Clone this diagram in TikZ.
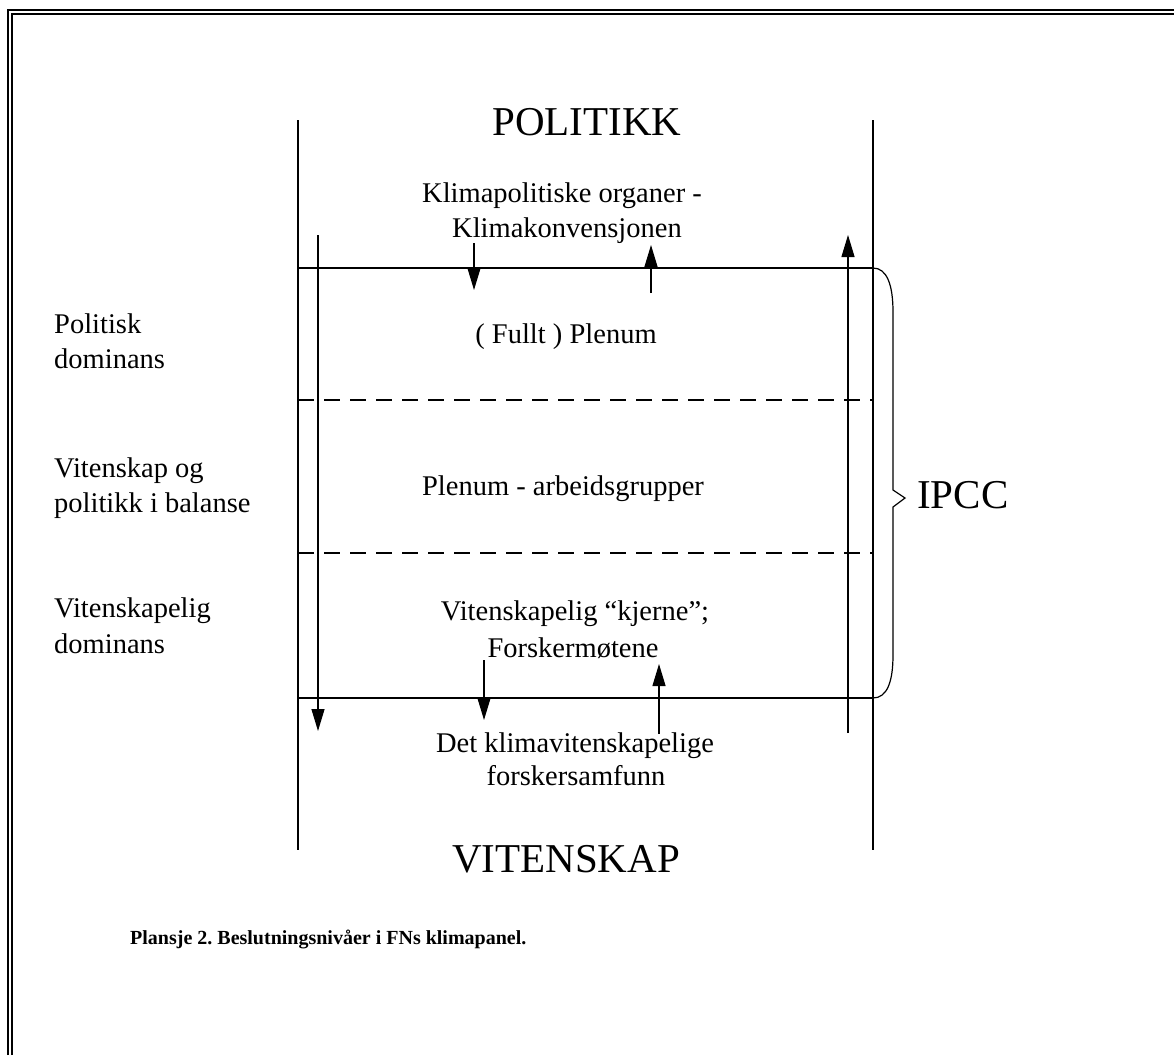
\documentclass[tikz,border=0pt]{standalone}
\usepackage{fontspec}
\setmainfont{Liberation Serif}
\usetikzlibrary{arrows.meta}
\frenchspacing
\begin{document}
\begin{tikzpicture}[x=1pt,y=-1pt,
  ln/.style={line width=1.2pt},
  arr/.style={ln,-{Triangle[length=22pt,width=13pt]}},
  dsh/.style={ln,dash pattern=on 16pt off 10pt},
  small/.style={font=\fontsize{28.5}{35}\selectfont,inner sep=0pt,anchor=base},
  lefttxt/.style={font=\fontsize{28.5}{35}\selectfont,inner sep=0pt,anchor=base west},
  big/.style={font=\fontsize{41}{48}\selectfont,inner sep=0pt,anchor=base},
]
\useasboundingbox (0,0) rectangle (1174,1055);
\fill[white] (0,0) rectangle (1174,1055);
% frame (top and left, double)
\draw[line width=2.5pt] (8,1055) -- (8,10) -- (1174,10);
\draw[line width=2pt] (11.5,1055) -- (11.5,14) -- (1174,14);
% main columns
\coordinate (LT) at (298,120); \coordinate (LB) at (298,850);
\coordinate (RT) at (873,120); \coordinate (RB) at (873,850);
\draw[ln] (LT) -- (LB);
\draw[ln] (RT) -- (RB);
% horizontal levels
\coordinate (T1) at (298,268); \coordinate (T2) at (873,268);
\coordinate (B1) at (298,698); \coordinate (B2) at (873,698);
\coordinate (D1a) at (298,400); \coordinate (D1b) at (873,400);
\coordinate (D2a) at (298,553); \coordinate (D2b) at (873,553);
\draw[ln] (T1) -- (T2);
\draw[ln] (B1) -- (B2);
\draw[dsh] (D1a) -- (D1b);
\draw[dsh] (D2a) -- (D2b);
% brace
\draw[ln] (T2) .. controls (887,268) and (893,285) .. (893,312) -- (893,490) -- (905,498) -- (893,507) -- (893,655) .. controls (893,682) and (887,698) .. (B2);
% arrows
\coordinate (ALs) at (318,235); \coordinate (ALe) at (318,731);
\coordinate (ARs) at (848,733); \coordinate (ARe) at (848,235);
\coordinate (A1s) at (474,243); \coordinate (A1e) at (474,290);
\coordinate (A2s) at (651,293); \coordinate (A2e) at (651,245);
\coordinate (A3s) at (484,660); \coordinate (A3e) at (484,720);
\coordinate (A4s) at (659,734); \coordinate (A4e) at (659,664);
\draw[arr] (ALs) -- (ALe);
\draw[arr] (ARs) -- (ARe);
\draw[arr] (A1s) -- (A1e);
\draw[arr] (A2s) -- (A2e);
\draw[arr] (A3s) -- (A3e);
\draw[arr] (A4s) -- (A4e);
% big labels
\node[big] (pol) at (587,135) {POLITIKK};
\node[big] (vit) at (566,872) {VITENSKAP};
\node[font=\fontsize{41}{48}\selectfont,inner sep=0pt,anchor=base west] (ipcc) at (917,508) {IPCC};
% middle labels
\node[small] (k1) at (562,202) {Klimapolitiske organer -};
\node[small] (k2) at (567,237) {Klimakonvensjonen};
\node[small] (fp) at (566,343) {( Fullt ) Plenum};
\node[small] (pa) at (563,495) {Plenum - arbeidsgrupper};
\node[small] (vk) at (575,620) {Vitenskapelig “kjerne”;};
\node[small] (fm) at (573,657) {Forskermøtene};
\node[small] (dk) at (575,752) {Det klimavitenskapelige};
\node[small] (fs) at (576,785) {forskersamfunn};
% left labels
\node[lefttxt] (l1) at (54,333) {Politisk};
\node[lefttxt] (l2) at (54,368) {dominans};
\node[lefttxt] (l3) at (54,477) {Vitenskap og};
\node[lefttxt] (l4) at (54,512) {politikk i balanse};
\node[lefttxt] (l5) at (54,617) {Vitenskapelig};
\node[lefttxt] (l6) at (54,653) {dominans};
% caption
\node[font=\bfseries\fontsize{20}{24}\selectfont,inner sep=0pt,anchor=base west] (cap) at (130,944) {Plansje 2. Beslutningsnivåer i FNs klimapanel.};
\end{tikzpicture}
\end{document}
